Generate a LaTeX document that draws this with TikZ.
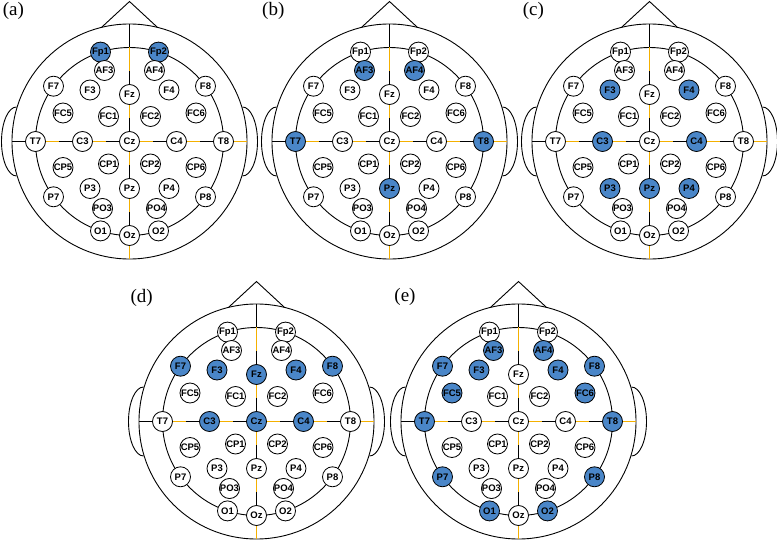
\documentclass[tikz,border=0pt]{standalone}
\usepackage{fontspec}
\setmainfont{Liberation Serif}
\setsansfont{Liberation Sans}
\definecolor{eegblue}{HTML}{4A86C8}
\definecolor{eegyellow}{HTML}{F4B000}
\tikzset{
  elec/.style={circle, draw=black, line width=0.8pt, fill=white, minimum size=20pt,
    inner sep=0pt, font=\sffamily\bfseries\fontsize{9.5}{9.5}\selectfont},
  hl/.style={fill=eegblue},
  sel/.style={e-#1/.style=hl},
  elstate/.style={e-#1/.try},
  headline/.style={line width=0.9pt, draw=black},
  blackseg/.style={line width=1.3pt, draw=black},
  yellowseg/.style={line width=1.3pt, draw=eegyellow},
  panellabel/.style={inner sep=0pt, font=\rmfamily\fontsize{19}{19}\selectfont},
}
\newcommand\headpanel[4]{%
  \begin{scope}[shift={(#2,#3)}, sel/.list={#4}]
    % head outline
    \draw[headline] (0,0) circle[radius=117.5pt];
    % nose
    \coordinate (#1-noseL) at (-28,-114.1);
    \coordinate (#1-noseR) at (28,-114.1);
    \coordinate (#1-apex) at (0,-140);
    \draw[headline] (#1-noseL) -- (#1-apex) -- (#1-noseR);
    % ears
    \draw[headline] (-113,-34.5) arc[start angle=90, end angle=270, x radius=15pt, y radius=34.5pt];
    \draw[headline] (113,-34.5) arc[start angle=90, end angle=-90, x radius=15pt, y radius=34.5pt];
    % inner ring
    \draw[headline] (0,0) circle[radius=94pt];
    % midlines, alternating 10% segments (black, yellow, ...)
    \foreach \sa/\sb/\segstyle in {-117.5/-94/blackseg, -94/-70.5/yellowseg,
        -70.5/-47/blackseg, -47/-23.5/yellowseg, -23.5/0/blackseg,
        0/23.5/yellowseg, 23.5/47/blackseg, 47/70.5/yellowseg,
        70.5/94/blackseg, 94/117.5/yellowseg}{
      \draw[\segstyle] (\sa,0) -- (\sb,0);
      \draw[\segstyle] (0,\sa) -- (0,\sb);
    }
    % electrodes
    \foreach \n/\ex/\ey in {
      Fp1/-29/-89.4, Fp2/29/-89.4,
      AF3/-25/-71, AF4/25/-71,
      F7/-76/-55.3, F3/-39.5/-51.5, Fz/0/-47, F4/39.5/-51.5, F8/76/-55.3,
      FC5/-66.5/-28.5, FC1/-21/-25, FC2/21/-25, FC6/66.5/-28.5,
      T7/-94/0, C3/-47/0, Cz/0/0, C4/47/0, T8/94/0,
      CP5/-66.5/26, CP1/-21/22.5, CP2/21/22.5, CP6/66.5/26,
      P7/-76/55.3, P3/-39.5/47, Pz/0/47, P4/39.5/47, P8/76/55.3,
      PO3/-27/67, PO4/27/67,
      O1/-29/89.4, Oz/0/94, O2/29/89.4}{
      \node[elec, elstate/.expand once=\n] (#1-\n) at (\ex,\ey) {\n};
    }
  \end{scope}%
}
\begin{document}
\begin{tikzpicture}[x=1pt,y=-1pt]
  \useasboundingbox (0,0) rectangle (777,540);
  \headpanel{a}{129.5}{141.5}{Fp1,Fp2}
  \headpanel{b}{389.5}{141.5}{AF3,AF4,T7,T8,Pz}
  \headpanel{c}{649.5}{141.5}{F3,F4,C3,C4,P3,Pz,P4}
  \headpanel{d}{256.5}{421.5}{F7,F3,Fz,F4,F8,C3,Cz,C4}
  \headpanel{e}{518.5}{421.5}{AF3,AF4,F7,F3,F4,F8,FC5,FC6,T7,T8,P7,P8,O1,O2}
  \node[panellabel] (la) at (13.3,11.3) {(a)};
  \node[panellabel] (lb) at (273.3,11.3) {(b)};
  \node[panellabel] (lc) at (533.3,11.3) {(c)};
  \node[panellabel] (ld) at (141.7,297.5) {(d)};
  \node[panellabel] (le) at (405,296.7) {(e)};
\end{tikzpicture}
\end{document}
